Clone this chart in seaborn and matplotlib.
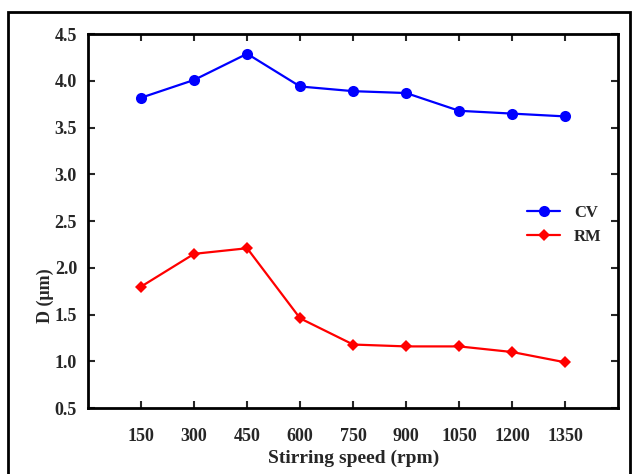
import pandas as pd
import matplotlib.pyplot as plt
import matplotlib.patches as mpatches
import seaborn as sns

# Data
speed = [150, 300, 450, 600, 750, 900, 1050, 1200, 1350]
cv = [3.82, 4.01, 4.29, 3.94, 3.89, 3.87, 3.68, 3.65, 3.62]
rm = [1.80, 2.15, 2.21, 1.46, 1.18, 1.16, 1.16, 1.10, 0.99]
series_names = ["CV", "RM"]
y_ticks = [0.5, 1.0, 1.5, 2.0, 2.5, 3.0, 3.5, 4.0, 4.5]

df = pd.DataFrame(
    {
        "speed": speed * 2,
        "value": cv + rm,
        "series": [series_names[0]] * len(cv) + [series_names[1]] * len(rm),
    }
)

sns.set_style("ticks")
plt.rcParams["font.family"] = ["Liberation Serif", "DejaVu Serif"]
plt.rcParams["font.weight"] = "bold"

fig = plt.figure(figsize=(6.34, 4.74), dpi=100)
ax = fig.add_axes([0.139, 0.139, 0.836, 0.789])

sns.lineplot(
    data=df,
    x="speed",
    y="value",
    hue="series",
    style="series",
    markers={"CV": "o", "RM": "D"},
    dashes=False,
    palette={"CV": "#0000ff", "RM": "#ff0000"},
    markersize=8,
    linewidth=1.6,
    markeredgewidth=0,
    ax=ax,
)
# smaller diamond for RM
for line in ax.get_lines():
    if line.get_marker() == "D":
        line.set_markersize(6)

ax.set_xlim(0, 1500)
ax.set_ylim(0.5, 4.5)
ax.set_xticks(speed)
ax.set_yticks(y_ticks)
ax.set_yticklabels([f"{t:.1f}" for t in y_ticks])
ax.tick_params(
    direction="in", top=True, right=True, length=5, width=1.5,
    labelsize=13, pad=14,
)
ax.tick_params(axis="y", pad=8)
for lbl in ax.get_xticklabels() + ax.get_yticklabels():
    lbl.set_fontweight("bold")
for sp in ax.spines.values():
    sp.set_linewidth(2)
    sp.set_color("black")

ax.set_xlabel("Stirring speed (rpm)", fontsize=14, fontweight="bold", labelpad=4)
ax.set_ylabel("D (μm)", fontsize=13, fontweight="bold")
ax.yaxis.set_label_coords(-0.065, 0.30)

leg = ax.legend(
    loc="center left", bbox_to_anchor=(0.80, 0.49), frameon=False,
    fontsize=12, handlelength=2.0, labelspacing=0.5,
)
for t in leg.get_texts():
    t.set_fontweight("bold")

# outer frame around the figure
fig.patches.append(
    mpatches.Rectangle(
        (8 / 634, -0.02), 622 / 634, (474 - 12) / 474 + 0.02,
        transform=fig.transFigure, fill=False, edgecolor="black", linewidth=2,
    )
)

fig.savefig("out.png", dpi=100)
